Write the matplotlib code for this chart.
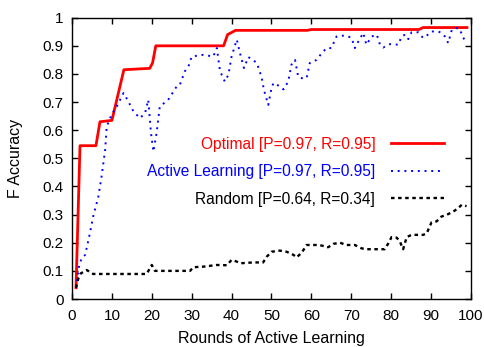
import matplotlib
matplotlib.use('Agg')
import matplotlib.pyplot as plt

plt.rcParams['font.family'] = ['Liberation Sans', 'DejaVu Sans']

# Optimal (red solid)
opt_x = [1, 2, 6, 7, 10, 13, 19.5, 20.2, 21, 38, 39, 41, 59, 60, 87, 88, 99]
opt_y = [0.04, 0.545, 0.545, 0.63, 0.635, 0.815, 0.82, 0.84, 0.90, 0.90,
         0.94, 0.955, 0.955, 0.958, 0.958, 0.965, 0.965]

# Active learning (blue dotted)
al_x = [1, 1.8, 2.4, 3.3, 4.5, 5.3, 6.6, 7.4, 8.3, 8.7, 9.9, 11.2, 12.9, 13.9,
        15.4, 17, 18.3, 19.1, 19.8, 20.4, 21.2, 22, 24.1, 26.2, 27, 28.3, 29.2,
        30, 32.9, 35.4, 36.3, 37.1, 38.3, 39.2, 40, 41.3, 42.1, 43.1, 44.2,
        46.3, 47.5, 48.1, 49.2, 50, 50.5, 52.1, 53, 54.2, 55, 55.9, 56.7, 57.6,
        58.8, 59.6, 61.3, 62.6, 63.8, 65, 66.3, 67.6, 68.8, 70.1, 70.9, 71.8,
        73, 73.8, 75.1, 76.4, 77.2, 78, 79.7, 81.8, 82.6, 83.5, 84.3, 85.1,
        86.8, 88, 88.9, 90.1, 91.8, 92.6, 93.5, 94.3, 95.2, 96.4, 97.2, 97.9,
        98.9]
al_y = [0.04, 0.12, 0.145, 0.157, 0.235, 0.293, 0.364, 0.435, 0.53, 0.613,
        0.655, 0.684, 0.732, 0.708, 0.667, 0.643, 0.66, 0.708, 0.59, 0.524,
        0.59, 0.684, 0.708, 0.755, 0.76, 0.81, 0.827, 0.862, 0.868, 0.862,
        0.892, 0.81, 0.773, 0.797, 0.862, 0.922, 0.874, 0.821, 0.86, 0.84,
        0.79, 0.744, 0.69, 0.75, 0.768, 0.756, 0.745, 0.773, 0.833, 0.85,
        0.79, 0.785, 0.785, 0.839, 0.85, 0.874, 0.892, 0.892, 0.933, 0.936,
        0.936, 0.928, 0.892, 0.916, 0.946, 0.904, 0.933, 0.94, 0.904, 0.894,
        0.906, 0.904, 0.933, 0.94, 0.924, 0.948, 0.948, 0.928, 0.936, 0.951,
        0.951, 0.946, 0.933, 0.91, 0.957, 0.963, 0.96, 0.933, 0.91]

# Random (black dashed)
rnd_x = [1, 1.6, 2.2, 3.7, 5.3, 18.7, 20, 20.8, 29.6, 30.4, 32.9, 36.3, 38.8,
         40, 41.3, 42.1, 45.4, 47.9, 48.8, 50, 52.1, 53.8, 55.5, 56.3, 57.6,
         58.8, 61.3, 62.6, 64.2, 65.5, 67.2, 68.8, 70.9, 72.6, 73.8, 78.4,
         79.3, 80.1, 81.4, 82.2, 83, 83.9, 85.1, 88, 88.9, 90.1, 91.4, 92.6,
         93.9, 95.6, 96.8, 97.7, 98.9]
rnd_y = [0.04, 0.074, 0.091, 0.103, 0.089, 0.089, 0.121, 0.1, 0.1, 0.113,
         0.115, 0.121, 0.12, 0.139, 0.133, 0.127, 0.13, 0.13, 0.15, 0.168,
         0.172, 0.168, 0.157, 0.148, 0.165, 0.192, 0.192, 0.19, 0.184, 0.196,
         0.2, 0.192, 0.192, 0.18, 0.177, 0.177, 0.198, 0.22, 0.218, 0.204,
         0.177, 0.22, 0.228, 0.228, 0.233, 0.272, 0.276, 0.293, 0.299, 0.311,
         0.323, 0.335, 0.33]

labels = ['Optimal [P=0.97, R=0.95]',
          'Active Learning [P=0.97, R=0.95]',
          'Random [P=0.64, R=0.34]']

x_ticks = list(range(0, 101, 10))
y_ticks = [i / 10 for i in range(11)]
y_tick_labels = ['0', '0.1', '0.2', '0.3', '0.4', '0.5', '0.6', '0.7', '0.8', '0.9', '1']

fig = plt.figure(figsize=(4.85, 3.47), dpi=100)
ax = fig.add_axes([0.1485, 0.1383, 0.8225, 0.8107])

ax.plot(opt_x, opt_y, color='#ff0000', lw=2.0, label=labels[0])
ax.plot(al_x, al_y, color='#0000ff', lw=1.4, dashes=(1, 2.45), label=labels[1])
ax.plot(rnd_x, rnd_y, color='black', lw=1.7, dashes=(1.5, 1.5), label=labels[2])

ax.set_xlim(0, 100)
ax.set_ylim(0, 1)
ax.set_xticks(x_ticks)
ax.set_yticks(y_ticks)
ax.set_yticklabels(y_tick_labels)
ax.tick_params(direction='in', length=4.5, width=1, top=True, right=True,
               labelsize=11)
ax.tick_params(axis='x', pad=7)
ax.tick_params(axis='y', pad=6)
for s in ax.spines.values():
    s.set_linewidth(1)

ax.set_xlabel('Rounds of Active Learning', fontsize=11.5, labelpad=6)
ax.set_ylabel('F Accuracy', fontsize=11.5, labelpad=14)

ax.legend(loc='center right', bbox_to_anchor=(0.932, 0.452), frameon=False,
          markerfirst=False, labelcolor='linecolor', fontsize=11.2,
          handlelength=3.4, handletextpad=1.0, labelspacing=0.8,
          borderpad=0, borderaxespad=0)

fig.savefig('out.png', dpi=100)
